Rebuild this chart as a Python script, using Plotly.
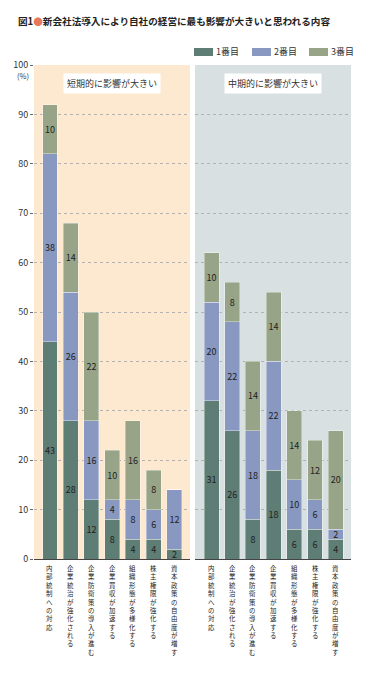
import plotly.graph_objects as go

categories = ["内部統制への対応", "企業統治が強化される", "企業防衛策の導入が進む", "企業買収が加速する",
              "組織形態が多様化する", "株主権限が強化する", "資本政策の自由度が増す"]
series_names = ["1番目", "2番目", "3番目"]
panel_titles = ["短期的に影響が大きい", "中期的に影響が大きい"]

# drawn segment heights (%)
short_1 = [44, 28, 12, 8, 4, 4, 2]
short_2 = [38, 26, 16, 4, 8, 6, 12]
short_3 = [10, 14, 22, 10, 16, 8, 0]
mid_1 = [32, 26, 8, 18, 6, 6, 4]
mid_2 = [20, 22, 18, 22, 10, 6, 2]
mid_3 = [10, 8, 14, 14, 14, 12, 20]
# printed labels
short_1_lbl = [43, 28, 12, 8, 4, 4, 2]
short_2_lbl = [38, 26, 16, 4, 8, 6, 12]
short_3_lbl = [10, 14, 22, 10, 16, 8, 0]
mid_1_lbl = [31, 26, 8, 18, 6, 6, 4]
mid_2_lbl = [20, 22, 18, 22, 10, 6, 2]
mid_3_lbl = [10, 8, 14, 14, 14, 12, 20]

y_ticks = [0, 10, 20, 30, 40, 50, 60, 70, 80, 90, 100]

colors = ["#5E7D74", "#8898C0", "#97A487"]
FONT = "Noto Sans CJK JP"

OFF = 8  # page body margin of the browser
W, H = 370 - OFF, 685 - OFF
# target plot area in page pixels: x 34..351, y 65..559
ML, MT = 34 - OFF, 65 - OFF
MR = W - (351 - OFF)
MB = H - (559 - OFF)
PW, PH = W - ML - MR, H - MT - MB


def px_x(px):
    return (px - OFF - ML) / PW


def px_y(py):
    return (H - MB - (py - OFF)) / PH


fig = go.Figure()
panels = [("x", [short_1, short_2, short_3], [short_1_lbl, short_2_lbl, short_3_lbl]),
          ("x2", [mid_1, mid_2, mid_3], [mid_1_lbl, mid_2_lbl, mid_3_lbl])]
for pi, (xa, vals, lbls) in enumerate(panels):
    for si in range(3):
        fig.add_trace(go.Bar(
            x=categories, y=vals[si], xaxis=xa, yaxis="y",
            name=series_names[si], showlegend=False,
            marker=dict(color=colors[si], line=dict(color="rgba(255,255,255,0.45)", width=0.8)),
            width=0.72,
            text=[str(v) if v else "" for v in lbls[si]],
            textposition="inside", insidetextanchor="middle", textangle=0,
            constraintext="none",
            textfont=dict(family=FONT, size=9, color="#222222"),
            hoverinfo="skip",
        ))

axis_common = dict(type="category", showticklabels=False, ticks="", showgrid=False,
                   showline=True, linecolor="#444444", linewidth=1.2, fixedrange=True,
                   automargin=False)
fig.update_layout(
    barmode="stack",
    width=W, height=H,
    margin=dict(l=ML, r=MR, t=MT, b=MB, autoexpand=False),
    paper_bgcolor="white", plot_bgcolor="rgba(0,0,0,0)",
    font=dict(family=FONT, size=9, color="#333333"),
    xaxis=dict(domain=[0, 156 / 317], range=[-0.77, 6.75], **axis_common),
    xaxis2=dict(domain=[161 / 317, 1], range=[-0.8, 6.74], anchor="y", **axis_common),
    yaxis=dict(range=[0, 100], tickvals=y_ticks, ticktext=[str(v) for v in y_ticks],
               showgrid=True, gridcolor="#b2b2b2", griddash="dot", gridwidth=0.8,
               ticks="outside", ticklen=3, tickcolor="#666666", automargin=False,
               showline=False, zeroline=False, tickfont=dict(size=9, color="#333333"),
               fixedrange=True),
    title=dict(text="<b>図1<span style='color:#E8785A'>●</span>新会社法導入により自社の経営に最も影響が大きいと思われる内容</b>",
               x=(18 - OFF) / W, xanchor="left", xref="container",
               y=1 - (22 - OFF) / H, yanchor="middle", yref="container",
               font=dict(family=FONT, size=9.6, color="#222222")),
    showlegend=False,
    bargap=0.28,
)

# panel backgrounds
fig.add_shape(type="rect", xref="x domain", yref="y domain", x0=0, x1=1, y0=0, y1=1,
              fillcolor="#FDE8D0", line=dict(width=0), layer="below")
fig.add_shape(type="rect", xref="x2 domain", yref="y domain", x0=0, x1=1, y0=0, y1=1,
              fillcolor="#D8E0E1", line=dict(width=0), layer="below")

# custom legend (swatch rectangles + labels)
legend_x = [194, 252, 309]
for lx, name, col in zip(legend_x, series_names, colors):
    fig.add_shape(type="rect", xref="paper", yref="paper",
                  x0=px_x(lx), x1=px_x(lx + 19), y0=px_y(56), y1=px_y(48),
                  fillcolor=col, line=dict(width=0))
    fig.add_annotation(text=name, xref="paper", yref="paper", x=px_x(lx + 20), y=px_y(52),
                       xanchor="left", yanchor="middle", showarrow=False,
                       font=dict(size=9, color="#333333"))

# panel title pills
for xa, t in zip(["x domain", "x2 domain"], panel_titles):
    fig.add_annotation(text=t, xref=xa, yref="paper", x=0.5, y=px_y(84),
                       yanchor="middle", showarrow=False, bgcolor="white", borderpad=3,
                       font=dict(size=9, color="#333333"))

# "(%)" unit
fig.add_annotation(text="(%)", xref="paper", yref="paper", x=px_x(31), y=px_y(75.5),
                   xanchor="right", yanchor="middle", showarrow=False,
                   font=dict(size=7.5, color="#333333"))

# vertical category labels: one annotation per label, one character per line
for xa in ["x", "x2"]:
    for cat in categories:
        fig.add_annotation(text="<br>".join(cat), xref=xa, yref="paper", x=cat, y=px_y(563),
                           yanchor="top", showarrow=False, borderpad=0,
                           font=dict(size=6.45, color="#222222"))

fig.write_html("out.html")
